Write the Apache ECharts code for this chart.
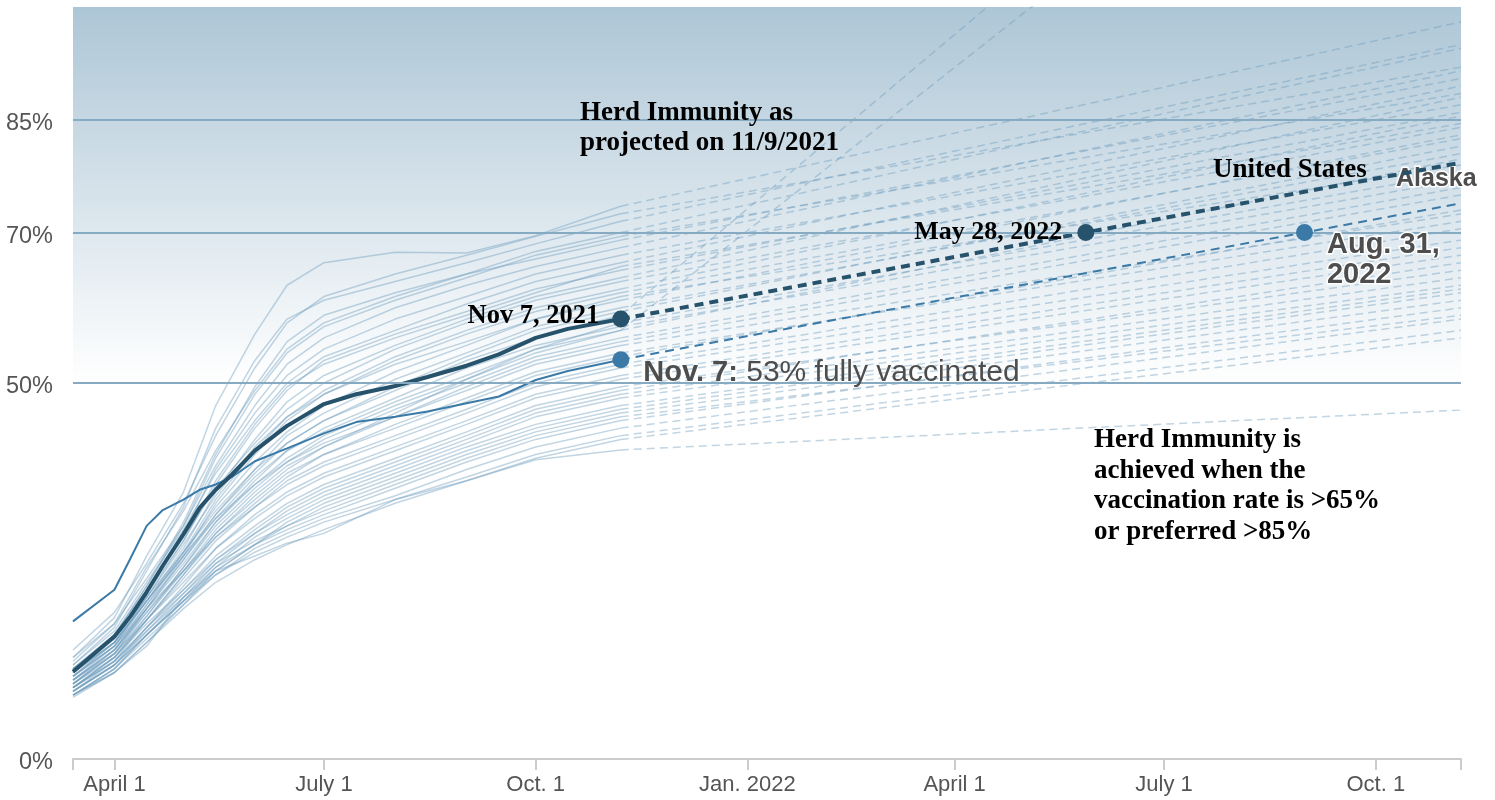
<!DOCTYPE html>
<html><head><meta charset="utf-8">
<script src="https://cdn.jsdelivr.net/npm/echarts@6/dist/echarts.min.js"></script>
<style>html,body{margin:0;padding:0;background:#fff}#c{width:1495px;height:800px}</style>
</head><body><div id="c"></div>
<script>
// ---------- DATA ----------
const xMin = '2021-03-14';
const xMax = '2022-11-07';
const xTickDates  = ['2021-04-01','2021-07-01','2021-10-01','2022-01-01','2022-04-01','2022-07-01','2022-10-01'];
const xTickLabels = ['April 1','July 1','Oct. 1','Jan. 2022','April 1','July 1','Oct. 1'];
const yTickValues = [0, 50, 70, 85];
const herdLines = [50, 70, 85];

// state curves (fully vaccinated %), solid part
const stateDates = ['2021-03-14','2021-04-01','2021-04-15','2021-05-01','2021-05-15','2021-06-01','2021-06-15','2021-07-01','2021-08-01','2021-09-01','2021-10-01','2021-11-07'];
const stateValues = [
  [13.5,18.8,27,35.5,47,56.5,63,66,67.4,67.3,69.6,73.5],
  [14.5,19.5,26,34,43,52,58,61.5,64.5,67,69.5,72.5],
  [12.5,17.5,25,33.5,44,53,58.5,61,63.5,66,68.5,71.5],
  [13,18,25.5,33,41,49,54.5,58,61.5,64.5,67.5,70],
  [12,16.5,23,31,40,48.5,54,57.5,61,64,67,69.5],
  [13.5,18,24,31,39,47,52.5,56,60,63,65.5,68],
  [11,15.5,22,30,38.5,46,51,54.5,58.5,61.5,64.5,67],
  [12.5,17,23.5,30.5,38,45,50,53.5,57,60.5,63.5,66],
  [11.5,16,22,29,36.5,44,49,53,56.5,59.5,62.5,65],
  [10.5,15,21,28,35.5,42.5,47.5,51,55,58.5,61.5,64],
  [12,16.5,22.5,29.5,36,42,46.5,50,54.5,58,61,63.5],
  [11,15.5,21.5,28.5,35,41.5,45.5,49,53.5,57,60,62.5],
  [10,14,20,27,34,40.5,45,48.5,53,56.5,59.5,62],
  [11.5,15.5,21,27.5,33.5,39.5,43.5,47,51.5,55,58.5,61],
  [10.5,14.5,20,26.5,32.5,38.5,43,46,50.5,54,57.5,60],
  [12,16,21.5,27.5,33,38.5,42,45,49.5,53.5,57,59.5],
  [9.5,13.5,19,25.5,31.5,37,41,44,48,52,55,57.5],
  [11,15,20.5,26.5,32,37.5,41,43.5,47.5,51,54.5,57],
  [10,14,19.5,25.5,31,36,39.5,42.5,46.5,50,53.5,56],
  [11.5,15.5,21,27,32,36.5,39.5,42,45.5,49.5,53,55.5],
  [9,13,18.5,24.5,30,35,38.5,41.5,45.5,49,52.5,55],
  [10.5,14.5,19.5,25,30,34.5,38,40.5,44.5,48,51.5,54],
  [9.5,13.5,18.5,24,29,33.5,37,39.5,43,46.5,50,52.5],
  [11,15,20,25,29.5,33.5,36.5,39,42.5,46,49.5,52],
  [9,12.5,17.5,23,28,32.5,35.5,38,41.5,45,48.5,51],
  [10,14,18.5,23.5,28,32,35,37.5,41,44.5,48,50.5],
  [9.5,13,17.5,22.5,27,31,34,36.5,40,43.5,47,49.5],
  [8.5,12,16.5,21.5,26,30,33,35.5,39,42.5,46,48.5],
  [10,13.5,18,22.5,26.5,30,32.5,35,38.5,42,45.5,48],
  [9,12.5,16.5,21,25.5,29.5,32,34.5,38,41.5,44.5,47],
  [8.5,11.5,15.5,20.5,25,28.5,31,33.5,37,40.5,43.5,46],
  [9.5,13,17,21.5,25.5,28.5,30.5,32.5,36,39.5,42.5,45],
  [8.5,12,16,20.5,24.5,28,30,32,35,38.5,41.5,44],
  [9,12.5,16.5,21,24.5,27.5,29.5,31.5,34.5,37.5,40.5,43],
  [8.2,11.5,15.5,20,23.5,26.5,28.5,30.5,34,37,40,42.5],
  [8.5,11.5,15,21.5,25,27,28.7,30,34.5,37,39.8,41.1],
  [10.5,14.5,20,26,31.5,36.5,40,43,47,50.5,54,57],
  [11.5,15.5,21,27,32.5,38,42,45,49,53,56,59],
  [12,16.5,23,31.5,40.5,49.5,55.5,59,62,64.5,66.5,69],
  [11,15,21.5,29,37,44.5,49.5,52.5,56,59,62,65.5],
  [10,14.5,20.5,27.5,34.5,41,45.5,48.5,52.5,55.5,58.5,61.5],
  [10.5,14,19,25,30.5,35.5,39,41.5,46,50.5,54.5,58],
  [9.5,13.5,18.5,24.5,29.5,34,37.5,40.5,44,47.5,51,53.5],
  [9,12.5,17,22,26.5,30.5,33.5,36,39.5,43,46.5,49],
  [8.5,12,16.5,21,25,28.5,31.5,34,37.5,41,44,46.5],
  [9.5,13,17.5,22,26,29,31,33,36.5,40,43,45.5]
];
// projected value one year after Nov 7, 2021
const projDates = ['2021-11-07', '2022-11-07'];
const stateProjEnd = [98,92,95,94.5,88.5,91.5,87,89.5,86,88,84,85.5,82.5,83,80.5,81.5,77,79.8,76,75,72.5,71.5,70.5,69,68,67,65,64,63,62.5,61,60,58.5,57,56,46.4,145,153,90.5,84.5,79,78,73,66,62,59];

// United States and Alaska
const hlDates = ['2021-03-14','2021-04-01','2021-04-08','2021-04-15','2021-04-22','2021-05-01','2021-05-08','2021-05-15','2021-05-22','2021-06-01','2021-06-15','2021-07-01','2021-07-15','2021-08-01','2021-08-15','2021-09-01','2021-09-15','2021-10-01','2021-10-15','2021-11-07'];
const usValues     = [11.6,16.3,19.0,22.2,25.7,29.9,33.4,35.8,37.8,41.0,44.3,47.2,48.5,49.6,50.8,52.3,53.8,56.0,57.2,58.5];
const alaskaValues = [18.3,22.5,26.7,31.0,33.1,34.5,35.8,36.5,37.5,39.6,41.3,43.3,44.8,45.5,46.2,47.3,48.2,50.4,51.6,53.1];
const usProjEnd = 79.3;
const alaskaProjEnd = 73.9;
const usMilestone = ['2022-05-28', 70];
const alaskaMilestone = ['2022-08-31', 70];

// ---------- CHART ----------
const chart = echarts.init(document.getElementById('c'));
const toTs = d => echarts.number.parseDate(d).getTime();
const xTickTs = xTickDates.map(toTs);
const stateColor = 'rgba(107,155,189,0.42)';
const usColor = '#26526c';
const akColor = '#3b7aa6';
const noteGray = '#4d4d4d';
const serif = '"Liberation Serif", "Times New Roman", serif';
const sans = '"Liberation Sans", Arial, Helvetica, sans-serif';

const series = [];
series.push({
  type: 'line', data: [], silent: true, z: 1,
  markArea: {
    silent: true,
    itemStyle: { color: new echarts.graphic.LinearGradient(0, 0, 0, 1, [
      { offset: 0, color: '#adc6d6' }, { offset: 1, color: '#ffffff' }]) },
    data: [[{ yAxis: 50 }, { yAxis: 100 }]]
  },
  markLine: {
    silent: true, symbol: 'none', label: { show: false },
    lineStyle: { color: '#86aac2', width: 2, type: 'solid' },
    data: herdLines.map(v => ({ yAxis: v }))
  }
});
stateValues.forEach((vals, i) => {
  series.push({
    type: 'line', silent: true, symbol: 'none', z: 2,
    lineStyle: { color: stateColor, width: 1.5 },
    data: stateDates.map((d, j) => [toTs(d), vals[j]])
  });
  series.push({
    type: 'line', silent: true, symbol: 'none', z: 2,
    lineStyle: { color: stateColor, width: 1.5, type: [8, 5] },
    data: [[toTs(projDates[0]), vals[vals.length - 1]], [toTs(projDates[1]), stateProjEnd[i]]]
  });
});
// Alaska
series.push({
  type: 'line', silent: true, symbol: 'none', z: 3,
  lineStyle: { color: akColor, width: 2 },
  data: hlDates.map((d, j) => [toTs(d), alaskaValues[j]])
});
series.push({
  type: 'line', silent: true, symbol: 'none', z: 3,
  lineStyle: { color: akColor, width: 2, type: [9, 6] },
  data: [[toTs(projDates[0]), alaskaValues[alaskaValues.length - 1]], [toTs(projDates[1]), alaskaProjEnd]],
  endLabel: {
    show: true, formatter: 'Alaska', offset: [-73, -24],
    fontFamily: sans, fontWeight: 'bold', fontSize: 25, color: noteGray,
    textBorderColor: '#fff', textBorderWidth: 3
  }
});
// US
series.push({
  type: 'line', silent: true, symbol: 'none', z: 4,
  lineStyle: { color: usColor, width: 4 },
  data: hlDates.map((d, j) => [toTs(d), usValues[j]])
});
series.push({
  type: 'line', silent: true, symbol: 'none', z: 4,
  lineStyle: { color: usColor, width: 4, type: [9, 6] },
  data: [[toTs(projDates[0]), usValues[usValues.length - 1]], [toTs(projDates[1]), usProjEnd]]
});
// markers
series.push({
  type: 'scatter', silent: true, z: 5, symbolSize: 17,
  itemStyle: { opacity: 1 },
  data: [
    { value: [toTs(projDates[0]), usValues[usValues.length - 1]], itemStyle: { color: usColor, opacity: 1 },
      label: { show: true, position: 'left', distance: 13, offset: [0, -3], formatter: 'Nov 7, 2021',
        fontFamily: serif, fontWeight: 'bold', fontSize: 26.5, color: '#000' } },
    { value: [toTs(usMilestone[0]), usMilestone[1]], itemStyle: { color: usColor, opacity: 1 },
      label: { show: true, position: 'left', distance: 15, offset: [0, 0], formatter: 'May 28, 2022',
        fontFamily: serif, fontWeight: 'bold', fontSize: 26, color: '#000' } },
    { value: [toTs(projDates[0]), alaskaValues[alaskaValues.length - 1]], itemStyle: { color: akColor, opacity: 1 },
      label: { show: true, position: 'right', distance: 14, offset: [0, 13],
        formatter: '{b|Nov. 7:}{r| 53% fully vaccinated}',
        rich: { b: { fontFamily: sans, fontWeight: 'bold', fontSize: 29, color: noteGray },
                r: { fontFamily: sans, fontSize: 30, color: noteGray } } } },
    { value: [toTs(alaskaMilestone[0]), alaskaMilestone[1]], itemStyle: { color: akColor, opacity: 1 },
      label: { show: true, position: 'right', distance: 15, offset: [-1, 27], formatter: 'Aug. 31,\n2022',
        fontFamily: sans, fontWeight: 'bold', fontSize: 29, lineHeight: 30, color: noteGray,
        textBorderColor: '#fff', textBorderWidth: 3 } }
  ]
});

chart.setOption({
  animation: false,
  backgroundColor: '#fff',
  grid: { left: 73, right: 34, top: 7, bottom: 41, containLabel: false },
  xAxis: {
    type: 'value', min: toTs(xMin), max: toTs(xMax), scale: true,
    axisLine: { show: true, lineStyle: { color: '#cccccc', width: 2 } },
    axisTick: { show: true, length: 11, lineStyle: { color: '#cccccc', width: 2 },
      customValues: [toTs(xMin)].concat(xTickTs, [toTs(xMax)]) },
    axisLabel: { customValues: xTickTs, margin: 15, color: '#555', fontSize: 22, fontFamily: sans,
      formatter: v => { const i = xTickTs.indexOf(v); return i >= 0 ? xTickLabels[i] : ''; } },
    splitLine: { show: false }
  },
  yAxis: {
    type: 'value', min: 0, max: 100,
    axisLine: { show: false }, axisTick: { show: false }, splitLine: { show: false },
    axisLabel: { customValues: yTickValues, margin: 20, color: '#555', fontSize: 23.5, fontFamily: sans,
      formatter: v => '{p|' + v + '%}',
      rich: { p: { fontSize: 23.5, fontFamily: sans, color: '#555', padding: [8, 0, 0, 0] } } }
  },
  graphic: [
    { type: 'text', left: 580, top: 98, silent: true, z: 10,
      style: { text: 'Herd Immunity as\nprojected on 11/9/2021', fontFamily: serif, fontWeight: 'bold',
        fontSize: 27, lineHeight: 30, fill: '#000' } },
    { type: 'text', left: 1213, top: 155, silent: true, z: 10,
      style: { text: 'United States', fontFamily: serif, fontWeight: 'bold', fontSize: 27, lineHeight: 30, fill: '#000' } },
    { type: 'text', left: 1094, top: 425, silent: true, z: 10,
      style: { text: 'Herd Immunity is\nachieved when the\nvaccination rate is >65%\nor preferred >85%',
        fontFamily: serif, fontWeight: 'bold', fontSize: 27, lineHeight: 30.5, fill: '#000' } }
  ],
  series: series
});
</script>
</body></html>
